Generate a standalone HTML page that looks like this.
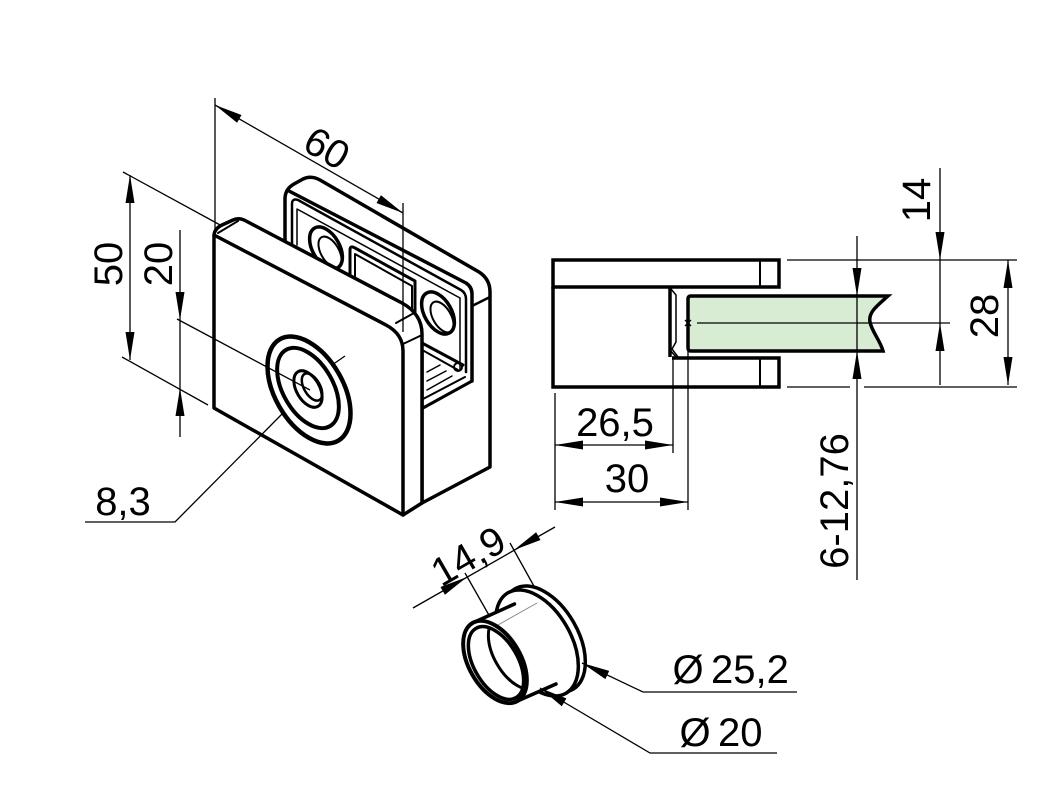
<!DOCTYPE html>
<html><head><meta charset="utf-8"><style>
html,body{margin:0;padding:0;background:#fff;}
svg{display:block;}
text{font-family:"Liberation Sans",sans-serif;font-size:40px;fill:#000;}
</style></head><body>
<svg width="1063" height="800" viewBox="0 0 1063 800" xmlns="http://www.w3.org/2000/svg">
<defs>
<clipPath id="bore"><ellipse cx="496" cy="663" rx="22" ry="40" transform="rotate(-30 496 663)"/></clipPath>
</defs>
<rect width="1063" height="800" fill="#fff"/>

<!-- ===== ISO clamp: back part ===== -->
<g stroke="#000" stroke-width="3.5" stroke-linejoin="round" stroke-linecap="round" fill="none">
<path fill="#fff" d="M285,300 L285,199 Q285,189 294,184 L303,179 Q311,175 320,180 L479,272 Q490,279 490,292 L490,467 L422,503 L422,350 Z"/>
<path d="M289,191 L466,283 Q472,287 472,294 L472,381"/>
<path stroke-width="2.5" d="M472,306 L490,297"/>
<path stroke-width="2.5" d="M292,245 L292,204 Q292,198 298,200 L461,290 Q466,293 466,299 L466,372"/>
<path stroke-width="1.5" d="M297,245 L297,209 L460,298 L460,370"/>
<ellipse cx="326" cy="248" rx="13.5" ry="23" transform="rotate(-30 326 248)"/>
<ellipse stroke-width="2" cx="330" cy="252" rx="9" ry="17" transform="rotate(-30 330 252)"/>
<ellipse cx="438" cy="313" rx="13.5" ry="23" transform="rotate(-30 438 313)"/>
<ellipse stroke-width="2" cx="442" cy="317" rx="9" ry="17" transform="rotate(-30 442 317)"/>
<path stroke-width="3" d="M350,281 L350,250 Q350,245 355,248 L415,281 L415,317 Z"/>
<path stroke-width="2" d="M355,280 L355,254 L412,286 L412,312"/>
<path stroke-width="3" d="M422,343 L463,365"/>
<path stroke-width="2" d="M424,351 L458,370"/>
<circle cx="458" cy="367" r="4" stroke-width="2"/>
<path stroke-width="3" d="M423,408 L472,381"/>
<path stroke-width="2" d="M423,399 L465,377"/>
<path stroke-width="1.5" d="M427,372 L440,365 M427,381 L446,371 M427,390 L452,376"/>
</g>

<!-- ===== ISO clamp: front plate ===== -->
<g stroke="#000" stroke-width="3.5" stroke-linejoin="round" stroke-linecap="round" fill="none">
<path fill="#fff" d="M214,408 L214,236 Q214,229 222,225 L233,220 Q239,217 246,221 L402,303 Q422,314 422,334 L422,503 L403,515 Z"/>
<path d="M214,235 L386,325 Q403,334 403,351 L403,515"/>
<path stroke-width="2" d="M396,323 L414,313 M403,344 L422,335 M218,233 L238,221"/>
<ellipse stroke-width="4.5" cx="309" cy="390" rx="34" ry="58.5" transform="rotate(-30 309 390)"/>
<ellipse stroke-width="4" cx="308" cy="388" rx="25" ry="44" transform="rotate(-30 308 388)"/>
<ellipse stroke-width="3" cx="308" cy="389" rx="11.5" ry="20" transform="rotate(-30 308 389)"/>
<ellipse stroke-width="2.5" cx="312" cy="387" rx="8" ry="15" transform="rotate(-30 312 387)"/>
</g>

<!-- ===== Bushing ===== -->
<g stroke="#000" stroke-width="3.5" stroke-linejoin="round" stroke-linecap="round" fill="none">
<ellipse fill="#fff" cx="544" cy="639" rx="34" ry="58" transform="rotate(-30 544 639)"/>
<ellipse fill="#fff" cx="537" cy="643" rx="34" ry="58" transform="rotate(-30 537 643)"/>
<polygon fill="#fff" stroke="none" points="472.5,623 514.5,604 559.5,682 517.5,701"/>
<path d="M472.5,623 L514.5,604 M517.5,701 L556,684"/>
<path stroke="#888" stroke-width="1" d="M498,625 L537,603"/>
<ellipse fill="#fff" stroke-width="4" cx="495" cy="662" rx="26" ry="45" transform="rotate(-30 495 662)"/>
<ellipse stroke-width="3.5" cx="496" cy="663" rx="22" ry="40" transform="rotate(-30 496 663)"/>
<g clip-path="url(#bore)"><ellipse stroke-width="3" cx="516" cy="653" rx="22" ry="40" transform="rotate(-30 516 653)"/></g>
</g>

<!-- ===== Side view ===== -->
<g stroke="#000" stroke-width="3.5" stroke-linejoin="miter" fill="none">
<rect x="553" y="260" width="226" height="27"/>
<path d="M553,287 L553,387 L779,387 L779,358 L672,358"/>
<path stroke-width="2" d="M760,260 L760,287 M760,358 L760,387"/>
<path d="M670,288 L670,357"/>
<path stroke-width="1.5" d="M671,289 L676,295 L676,342 L672,349 L678,357 M670,350 L676,357"/>
<path fill="#d8ecd4" d="M691,296 L888,296 C878,305 868,312 870,322 C872,332 880,340 883,351 L691,351 Q688,351 688,348 L688,299 Q688,296 691,296 Z"/>
</g>
<g stroke="#000" stroke-width="1.3" fill="none">
<path d="M697,323 L950,323"/>
<path d="M685,320 L691,326 M691,320 L685,326"/>
<path d="M787,260 L1017,260 M787,387 L850,387 M864,387 L1017,387"/>
<!-- 26,5 / 30 -->
<path d="M555,393 L555,510 M673,357 L673,453 M688,351 L688,510"/>
<path d="M555,445 L673,445 M555,502 L688,502"/>
<!-- 6-12,76 -->
<path d="M857,236 L857,580"/>
<!-- 14 -->
<path d="M940,168 L940,385"/>
<!-- 28 -->
<path d="M1008,260 L1008,385"/>

<!-- 60 -->
<path d="M215,98 L215,232 M403,203 L403,332 M215,105 L403,213"/>
<!-- 50 / 20 -->
<path d="M123,172 L222,226 M122,357 L208,405 M130,175 L130,360"/>
<path d="M180,230 L180,437 M177,319 L310,390 M332,365 L345,356"/>
<!-- 8,3 -->
<path d="M283,413 L175,522 L85,522"/>
<!-- 14,9 -->
<path d="M413,608 L555,527 M465,573 L490,617 M510,543 L535,588"/>
<!-- diameters -->
<path d="M582,663 L643,692 L797,692 M540,688 L650,753 L777,753"/>
</g>

<!-- arrowheads -->
<g fill="#000" stroke="none">
<polygon points="130,175 125.5,203 134.5,203"/>
<polygon points="130,360 125.5,332 134.5,332"/>
<polygon points="180,320 175.5,292 184.5,292"/>
<polygon points="180,388 175.5,416 184.5,416"/>
<polygon points="215,105 237.1,122.8 241.5,115"/>
<polygon points="403,213 376.5,203 380.9,195.2"/>
<polygon points="555,445 583,440.5 583,449.5"/>
<polygon points="673,445 645,440.5 645,449.5"/>
<polygon points="555,502 583,497.5 583,506.5"/>
<polygon points="688,502 660,497.5 660,506.5"/>
<polygon points="857,296 852.5,268 861.5,268"/>
<polygon points="857,351 852.5,379 861.5,379"/>
<polygon points="940,260 935.5,232 944.5,232"/>
<polygon points="940,323 935.5,351 944.5,351"/>
<polygon points="1008,260 1003.5,288 1012.5,288"/>
<polygon points="1008,385 1003.5,357 1012.5,357"/>
<polygon points="467,577 444.9,594.8 440.5,587"/>
<polygon points="514,550 540.5,540 536.1,532.2"/>
<polygon points="582,663 609.2,670.9 605.4,679.1"/>
<polygon points="540,688 566.4,698.4 561.8,706.2"/>
</g>

<!-- labels -->
<text text-anchor="middle" transform="translate(320,160) rotate(30)">60</text>
<text text-anchor="middle" transform="translate(122,264) rotate(-90)">50</text>
<text text-anchor="middle" transform="translate(172,264) rotate(-90)">20</text>
<text x="123" y="515" text-anchor="middle">8,3</text>
<text x="615" y="436" text-anchor="middle">26,5</text>
<text x="627" y="492" text-anchor="middle">30</text>
<text text-anchor="middle" transform="translate(848,501) rotate(-90)">6-12,76</text>
<text text-anchor="middle" transform="translate(930,200) rotate(-90)">14</text>
<text text-anchor="middle" transform="translate(998,316) rotate(-90)">28</text>
<text text-anchor="middle" transform="translate(475,568) rotate(-30)">14,9</text>
<text x="688" y="683" text-anchor="middle">Ø</text>
<text x="711" y="683">25,2</text>
<text x="695" y="746" text-anchor="middle">Ø</text>
<text x="718" y="746">20</text>
</svg>
</body></html>
